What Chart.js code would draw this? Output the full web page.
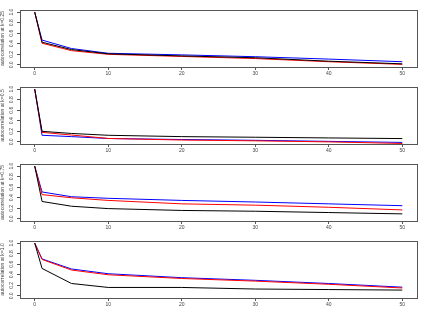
<!DOCTYPE html>
<html>
<head>
<meta charset="utf-8">
<script src="https://cdn.jsdelivr.net/npm/chart.js@4.4.1/dist/chart.umd.min.js"></script>
<style>
html,body{margin:0;padding:0;background:#fff;}
canvas{display:block;}
</style>
</head>
<body>
<canvas id="c0" width="436" height="77"></canvas>
<canvas id="c1" width="436" height="77"></canvas>
<canvas id="c2" width="436" height="77"></canvas>
<canvas id="c3" width="436" height="77"></canvas>
<script>
const lags = [0, 1, 5, 10, 20, 30, 40, 50];
const xTicks = [0, 10, 20, 30, 40, 50];
const yTicks = [0, 0.2, 0.4, 0.6, 0.8, 1.0];
const panelTitles = [
  "autocorrelation at k=0.25",
  "autocorrelation at k=0.5",
  "autocorrelation at k=0.75",
  "autocorrelation at k=1.0"
];
// panel 1
const black1 = [1, 0.43, 0.29, 0.21, 0.17, 0.135, 0.07, 0.02];
const red1   = [1, 0.41, 0.27, 0.20, 0.16, 0.12, 0.06, 0.01];
const blue1  = [1, 0.47, 0.31, 0.22, 0.19, 0.155, 0.11, 0.06];
// panel 2
const black2 = [1, 0.20, 0.16, 0.125, 0.10, 0.088, 0.075, 0.063];
const red2   = [1, 0.18, 0.13, 0.065, 0.035, 0.02, 0.0, -0.03];
const blue2  = [1, 0.125, 0.10, 0.064, 0.045, 0.03, 0.01, -0.01];
// panel 3
const black3 = [1, 0.33, 0.24, 0.195, 0.16, 0.145, 0.12, 0.095];
const red3   = [1, 0.46, 0.40, 0.35, 0.285, 0.26, 0.22, 0.17];
const blue3  = [1, 0.51, 0.42, 0.39, 0.35, 0.32, 0.285, 0.25];
// panel 4
const black4 = [1, 0.52, 0.235, 0.16, 0.16, 0.13, 0.12, 0.11];
const red4   = [1, 0.69, 0.49, 0.40, 0.33, 0.28, 0.22, 0.15];
const blue4  = [1, 0.70, 0.51, 0.42, 0.345, 0.295, 0.235, 0.165];

const panels = [
  [black1, red1, blue1],
  [black2, red2, blue2],
  [black3, red3, blue3],
  [black4, red4, blue4]
];
const seriesColors = ['#000000', '#ff0000', '#0000ff'];
const axisColor = '#555555';
const fontFamily = 'Liberation Sans, Arial, sans-serif';

const boxPlugin = {
  id: 'box',
  afterDraw(chart) {
    const a = chart.chartArea, ctx = chart.ctx;
    ctx.save();
    ctx.strokeStyle = axisColor;
    ctx.lineWidth = 1;
    ctx.strokeRect(Math.round(a.left) + 0.5, Math.round(a.top) + 0.5,
                   Math.round(a.right - a.left), Math.round(a.bottom - a.top));
    ctx.restore();
  }
};

panels.forEach((series, p) => {
  new Chart(document.getElementById('c' + p), {
    type: 'line',
    data: {
      datasets: series.map((vals, i) => ({
        data: lags.map((l, j) => ({x: l, y: vals[j]})),
        borderColor: seriesColors[i],
        borderWidth: 1,
        pointRadius: 0,
        tension: 0,
        fill: false
      }))
    },
    options: {
      responsive: false,
      animation: false,
      events: [],
      layout: {padding: {top: 10, right: 19, left: 0, bottom: 0}},
      plugins: {legend: {display: false}, tooltip: {enabled: false}},
      scales: {
        x: {
          type: 'linear',
          min: -2, max: 52,
          afterBuildTicks: s => { s.ticks = xTicks.map(v => ({value: v})); },
          afterFit: s => { s.height = 10; },
          grid: {display: true, drawOnChartArea: false, drawTicks: true, tickLength: 3, color: axisColor},
          border: {display: false},
          ticks: {font: {size: 5, family: fontFamily}, color: '#444', padding: 1, maxRotation: 0, autoSkip: false}
        },
        y: {
          type: 'linear',
          min: -0.04, max: 1.04,
          afterBuildTicks: s => { s.ticks = yTicks.map(v => ({value: v})); },
          afterFit: s => { s.width = 20; },
          grid: {display: true, drawOnChartArea: false, drawTicks: true, tickLength: 3, color: axisColor},
          border: {display: false},
          title: {display: true, text: panelTitles[p], font: {size: 5, family: fontFamily}, color: '#444', padding: 0},
          ticks: {
            font: {size: 5, family: fontFamily}, color: '#444', padding: 1.5,
            minRotation: 90, maxRotation: 90, crossAlign: 'center', autoSkip: false,
            callback: v => Number(v).toFixed(1)
          }
        }
      }
    },
    plugins: [boxPlugin]
  });
});
</script>
</body>
</html>
